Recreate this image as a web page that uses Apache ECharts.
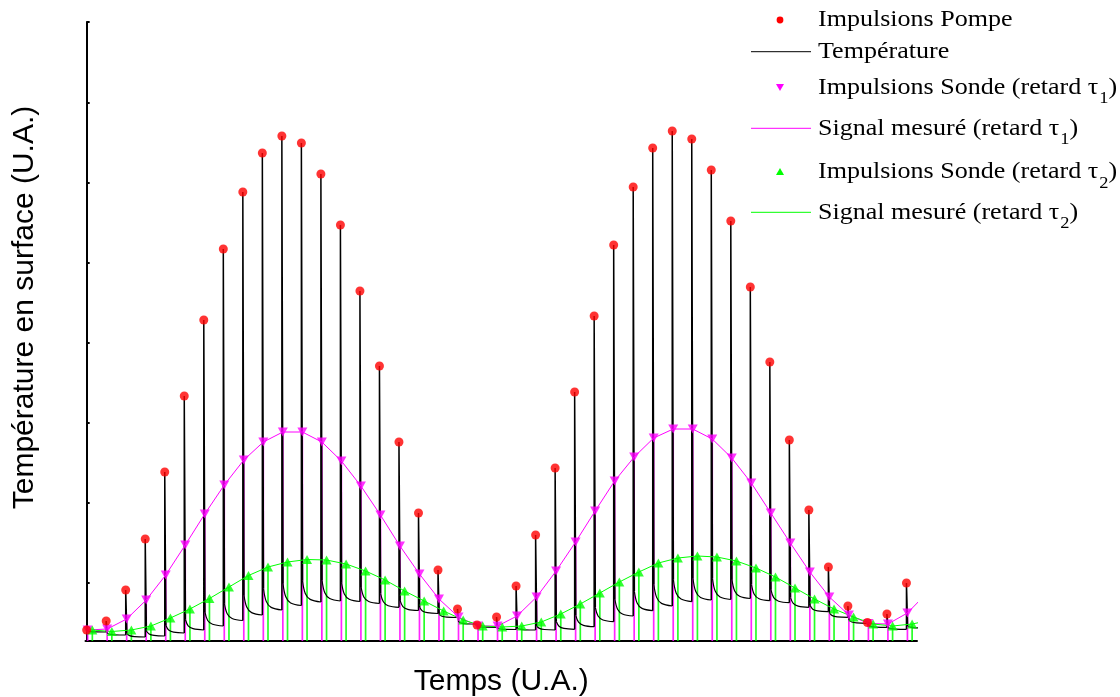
<!DOCTYPE html>
<html><head><meta charset="utf-8">
<script src="https://cdn.jsdelivr.net/npm/echarts@6/dist/echarts.min.js"></script>
<style>html,body{margin:0;padding:0;background:#fff}#c{width:1120px;height:697px}</style>
</head><body><div id="c"></div>
<script>
// Pump pulses at t = 0,1,2,... (U.A.); values = surface temperature (U.A.)
const pumpPeak = [11,20,51,102,169,245,321,392,449,488,505,498,467,416,350,275,199,128,71,32,16,24,55,106,173,249,325,396,454,493,510,502,471,420,354,279,201,131,74,35,18.5,27,58,110];
// probe pulse signals (delay tau1 and tau2 after each pump pulse)
const probe1 = [11,12,22,41,66,96,127,156,181,199,209,209,199,180,155,126,95,67,42,24,15,15,25,44,70,99,130,160,184,203,212,212,202,183,158,128,98,69,44,26,17.5,17,28,48];
const probe2 = [11,9.5,11,15,23,32,42.5,54,65.5,74,79,81.5,81,77,70,61,50,40,30,21,15,14,15,19,27,37,48,59,69,78,83,85,84,80,73,64,53,42,32,24,17,15,17,21];
// temperature tail after each pulse, sampled at tailTimes (fraction of period)
const tailTimes = [0.06, 0.2, 0.45, 1];
const tailKnee = [10,7.8,7.5,10,15.5,21.5,28.8,37.3,45.8,52.5,57.3,60.3,60.5,58.3,53.8,47.4,40.3,33.8,26.8,19,14.4,12.8,13,15,19.4,25.7,33.7,42,49.7,56.5,61.2,63,62.8,61.3,56.7,51.2,43.4,35.7,27.9,20.9,15.4,13.4,15];
const tail20 = [9.4,6.7,5.4,7,11,15.2,20.5,27.2,33.9,39.6,44.2,47.5,48.2,47,44,39.2,34.4,30,24.8,17.8,14,12,11.8,12.6,14.8,18.8,25,31.8,38,43.6,48,49.8,50,50,46.8,43.4,37.6,31.8,25.4,19,14.4,12.4,13.8];
const tail45 = [9.1,6.2,4.4,5.6,8.9,12.3,16.7,22.5,28.4,33.6,38.1,41.6,42.5,41.8,39.5,35.3,31.7,28.3,23.9,17.2,13.8,11.7,11.2,11.5,12.6,15.7,21,27,32.6,37.6,41.9,43.6,44,44.8,42.3,39.8,34.9,30.1,24.2,18.1,13.9,11.9,13.2];
const tailEnd = [9,6,4,5,8,11,15,20.5,26,31,35.5,39,40,39.5,37.5,33.7,30.5,27.5,23.5,17,13.7,11.5,11,11,11.7,14.3,19.3,25,30.3,35,39.3,41,41.5,42.5,40.3,38.3,33.7,29.3,23.7,17.7,13.7,11.7,13];
const delay1 = 0.05, delay2 = 0.29;
const yTicks = [58, 138, 218, 298, 378, 458, 538, 619];
const xTitle = 'Temps (U.A.)';
const yTitle = 'Température en surface (U.A.)';
const legendLabels = ['Impulsions Pompe','Température','Impulsions Sonde (retard τ{s|1})','Signal mesuré (retard τ{s|1})','Impulsions Sonde (retard τ{s|2})','Signal mesuré (retard τ{s|2})'];

const RED='#ff0000', MAG='#ff00ff', GRN='#00ff00';

const pumpData = pumpPeak.map((v,k)=>[k,v]);
const p1Data = probe1.map((v,k)=>[k+delay1,v]);
const p2Data = probe2.map((v,k)=>[k+delay2,v]);
const drop1 = [], drop2 = [];
p1Data.forEach(p=>{drop1.push([p[0],0],[p[0],p[1]],[p[0],null]);});
p2Data.forEach(p=>{drop2.push([p[0],0],[p[0],p[1]],[p[0],null]);});
const jumps = [], tails = [];
for (let k=0;k<tailEnd.length;k++){
  const prev = k===0 ? pumpPeak[0] : tailEnd[k-1];
  jumps.push([k,prev],[k,pumpPeak[k]],[k+tailTimes[0],tailKnee[k]],[k,null]);
  tails.push([k+tailTimes[0],tailKnee[k]],[k+tailTimes[1],tail20[k]],[k+tailTimes[2],tail45[k]],[k+tailTimes[3],tailEnd[k]],[k,null]);
}

const legendY = [20, 51.7, 87.3, 128.3, 171.7, 212.3];
const graphics = [];
graphics.push({type:'circle', shape:{cx:780, cy:legendY[0], r:3.4}, style:{fill:RED}});
graphics.push({type:'line', shape:{x1:751,y1:legendY[1],x2:811,y2:legendY[1]}, style:{stroke:'#000',lineWidth:1}});
graphics.push({type:'polygon', shape:{points:[[776,legendY[2]-3.3],[784,legendY[2]-3.3],[780,legendY[2]+3.7]]}, style:{fill:MAG}});
graphics.push({type:'line', shape:{x1:751,y1:legendY[3],x2:811,y2:legendY[3]}, style:{stroke:MAG,lineWidth:1}});
graphics.push({type:'polygon', shape:{points:[[776,legendY[4]+3.3],[784,legendY[4]+3.3],[780,legendY[4]-3.7]]}, style:{fill:GRN}});
graphics.push({type:'line', shape:{x1:751,y1:legendY[5],x2:811,y2:legendY[5]}, style:{stroke:GRN,lineWidth:1}});
legendLabels.forEach((t,i)=>{
  graphics.push({type:'text', x:818, y:legendY[i], scaleX:1.085,
    style:{text:t, fill:'#000', fontFamily:'Liberation Serif', fontSize:24, lineHeight:24,
      align:'left', verticalAlign:'middle',
      rich:{s:{fontFamily:'Liberation Serif', fontSize:17, lineHeight:1, verticalAlign:'top', padding:[15,0,0,1]}}}});
});

const chart = echarts.init(document.getElementById('c'), null, {renderer:'canvas'});
chart.setOption({
  animation:false,
  backgroundColor:'#fff',
  grid:{left:85.5, right:203, top:22, bottom:56, outerBoundsMode:'none', containLabel:false},
  xAxis:{type:'value', min:-0.06, max:42.54,
    name:xTitle, nameLocation:'middle', nameGap:26,
    nameTextStyle:{fontFamily:'Liberation Sans', fontSize:30, color:'#000'},
    axisLine:{lineStyle:{color:'#000', width:2}}, axisTick:{show:false}, axisLabel:{show:false}, splitLine:{show:false}},
  yAxis:{type:'value', min:0, max:619,
    name:yTitle, nameLocation:'middle', nameGap:46,
    nameTextStyle:{fontFamily:'Liberation Sans', fontSize:30, color:'#000', padding:[0,0,0,48]},
    axisLine:{show:true, lineStyle:{color:'#000', width:2}},
    axisTick:{show:true, inside:true, length:3, customValues:yTicks, lineStyle:{color:'#000', width:2}},
    axisLabel:{show:false}, splitLine:{show:false}},
  graphic: graphics,
  series:[
    {name:'drop1', type:'line', data:drop1, symbol:'none', lineStyle:{color:MAG, width:1.7, opacity:0.85}, z:1, silent:true},
    {name:'drop2', type:'line', data:drop2, symbol:'none', lineStyle:{color:GRN, width:1.7, opacity:0.85}, z:1, silent:true},
    {name:'Température', type:'line', data:jumps, symbol:'none', lineStyle:{color:'#000', width:1.5}, z:2},
    {name:'Température tail', type:'line', data:tails, symbol:'none', smooth:0.35, lineStyle:{color:'#000', width:1.2}, z:2},
    {name:'Signal mesuré (retard τ1)', type:'line', data:p1Data, symbol:'none', lineStyle:{color:MAG, width:1}, z:3},
    {name:'Signal mesuré (retard τ2)', type:'line', data:p2Data, symbol:'none', lineStyle:{color:GRN, width:1}, z:3},
    {name:'Impulsions Sonde (retard τ1)', type:'scatter', data:p1Data, symbol:'triangle', symbolRotate:180, symbolSize:[10,9], itemStyle:{color:MAG}, z:4},
    {name:'Impulsions Sonde (retard τ2)', type:'scatter', data:p2Data, symbol:'triangle', symbolSize:[10,9], itemStyle:{color:GRN}, z:4},
    {name:'Impulsions Pompe', type:'scatter', data:pumpData, symbol:'circle', symbolSize:9, itemStyle:{color:RED}, z:5}
  ]
});
</script></body></html>
